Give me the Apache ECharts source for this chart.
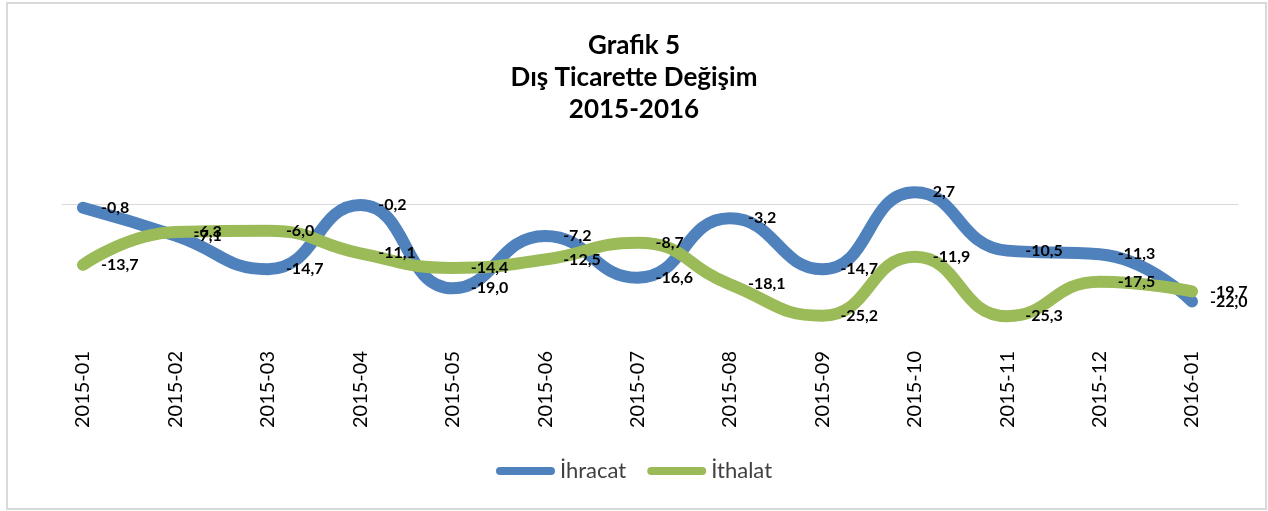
<!DOCTYPE html>
<html>
<head>
<meta charset="utf-8">
<script src="https://cdn.jsdelivr.net/npm/echarts@6/dist/echarts.min.js"></script>
<style>
html,body{margin:0;padding:0;background:#fff;}
#wrap{position:relative;width:1268px;height:511px;}
#chart{position:absolute;left:0;top:0;width:1268px;height:511px;}
#frame{position:absolute;left:6px;top:2px;width:1257px;height:504px;border:2px solid #d9d9d9;pointer-events:none;}
</style>
</head>
<body>
<div id="wrap"><div id="chart"></div><div id="frame"></div></div>
<script>
const categories = ['2015-01','2015-02','2015-03','2015-04','2015-05','2015-06','2015-07','2015-08','2015-09','2015-10','2015-11','2015-12','2016-01'];
const ihracat = [-0.8, -7.1, -14.7, -0.2, -19.0, -7.2, -16.6, -3.2, -14.7, 2.7, -10.5, -11.3, -22.0];
const ithalat = [-13.7, -6.3, -6.0, -11.1, -14.4, -12.5, -8.7, -18.1, -25.2, -11.9, -25.3, -17.5, -19.7];
const seriesNames = ['İhracat', 'İthalat'];
const titleText = 'Grafik 5\nDış Ticarette Değişim\n2015-2016';

const FONT = 'Lato';
const chart = echarts.init(document.getElementById('chart'));
const fmt = p => p.value.toFixed(1).replace('.', ',');
const capsule = 'path://M4,0 L55,0 A4,4 0 0 1 55,8 L4,8 A4,4 0 0 1 4,0 Z';

function lineSeries(name, data, color) {
  return {
    name: name, type: 'line', data: data, smooth: 0.5,
    xAxisIndex: 0, yAxisIndex: 0,
    symbol: 'circle', symbolSize: 0.1, showSymbol: true,
    clip: false,
    lineStyle: { color: color, width: 12, cap: 'round', join: 'round' },
    itemStyle: { color: color },
    label: { show: true, position: 'right', distance: 18, formatter: fmt,
      fontFamily: FONT, fontSize: 16, color: '#000', fontWeight: 'bold' },
    emphasis: { disabled: true }
  };
}

chart.setOption({
  animation: false,
  backgroundColor: '#fff',
  title: {
    text: titleText, left: 'center', top: 25,
    textStyle: { fontFamily: FONT, fontSize: 26, fontWeight: 'bold', color: '#000', lineHeight: 32 }
  },
  legend: {
    data: seriesNames, bottom: 24, left: 'center',
    itemWidth: 59, itemHeight: 8, itemGap: 21,
    icon: capsule,
    textStyle: { fontFamily: FONT, fontSize: 22, color: '#404040' }
  },
  grid: [
    { left: 83, right: 76, top: 182, bottom: 174 },
    { left: 62, right: 30, top: 182, bottom: 174 }
  ],
  xAxis: [
    { type: 'category', data: categories, boundaryGap: false, gridIndex: 0,
      axisLine: { show: false, onZero: false }, axisTick: { show: false },
      axisLabel: { rotate: 90, margin: 14, fontFamily: FONT, fontSize: 20, color: '#000' },
      splitLine: { show: false } },
    { type: 'value', gridIndex: 1, min: 0, max: 1,
      axisLine: { show: true, onZero: true, lineStyle: { color: '#d9d9d9', width: 1 } },
      axisTick: { show: false }, axisLabel: { show: false }, splitLine: { show: false } }
  ],
  yAxis: [
    { type: 'value', gridIndex: 0, min: -30, max: 5, show: false },
    { type: 'value', gridIndex: 1, min: -30, max: 5, show: false }
  ],
  series: [
    lineSeries(seriesNames[0], ihracat, '#4f81bd'),
    lineSeries(seriesNames[1], ithalat, '#9bbb59')
  ]
});
</script>
</body>
</html>
